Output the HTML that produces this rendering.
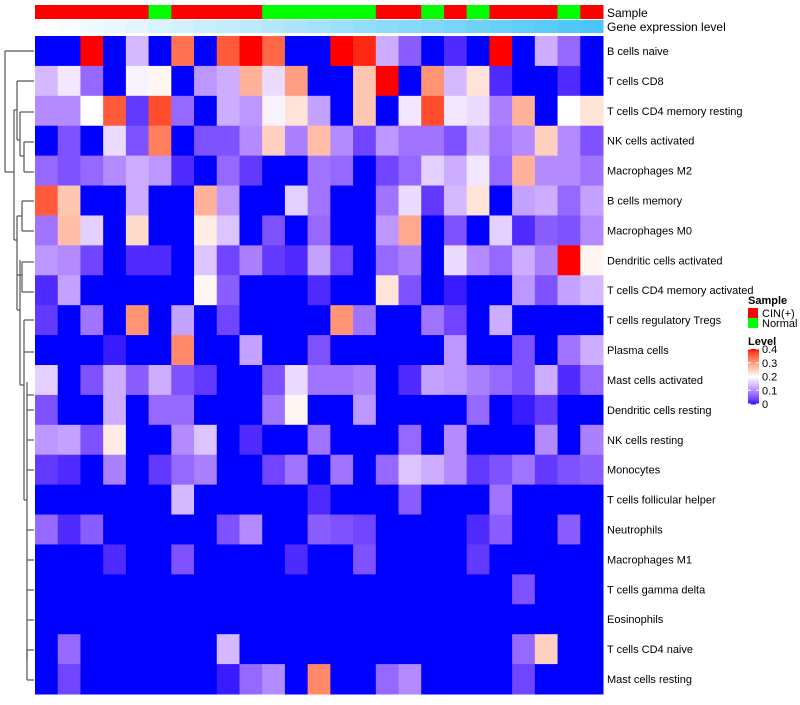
<!DOCTYPE html>
<html><head><meta charset="utf-8"><style>
body{margin:0;background:#fff;width:800px;height:700px;overflow:hidden;font-family:"Liberation Sans",sans-serif}
svg text{font-family:"Liberation Sans",sans-serif}
</style></head><body>
<svg id="c" width="800" height="700"></svg>
<script>
const rowNames=["B cells naive","T cells CD8","T cells CD4 memory resting","NK cells activated","Macrophages M2","B cells memory","Macrophages M0","Dendritic cells activated","T cells CD4 memory activated","T cells regulatory  Tregs","Plasma cells","Mast cells activated","Dendritic cells resting","NK cells resting","Monocytes","T cells follicular helper","Neutrophils","Macrophages M1","T cells gamma delta","Eosinophils","T cells CD4 naive","Mast cells resting"];
const sampleGroups=["C","C","C","C","C","N","C","C","C","C","N","N","N","N","N","C","C","N","C","N","C","C","C","N","C"];
const levelTicks=[0,0.1,0.2,0.3,0.4];
const r01=[0,0,0.4,0,0.14,0,0.34,0,0.36,0.4,0.35,0,0,0.4,0.39,0.13,0.06,0,0.02,0,0.4,0,0.13,0.07,0];
const r02=[0.14,0.18,0.07,0,0.19,0.21,0,0.11,0.13,0.28,0.17,0.3,0,0,0.26,0.4,0,0.31,0.14,0.23,0.02,0,0,0.02,0];
const r03=[0.1,0.1,0.2,0.36,0.03,0.37,0.07,0,0.13,0.11,0.19,0.23,0.12,0,0.26,0,0.18,0.37,0.18,0.17,0.09,0.28,0,0.2,0.23];
const r04=[0,0.05,0,0.17,0.05,0.33,0,0.05,0.05,0.1,0.25,0.09,0.27,0.1,0.04,0.11,0.08,0.08,0.05,0.13,0.08,0.1,0.25,0.1,0.05];
const r05=[0.07,0.05,0.07,0.1,0.13,0.11,0.02,0,0.07,0.03,0,0,0.08,0.07,0,0.04,0.07,0.16,0.13,0.18,0.07,0.28,0.1,0.1,0.08];
const r06=[0.36,0.26,0,0,0.13,0,0,0.28,0.11,0,0,0.16,0.08,0,0,0.08,0.17,0.03,0.14,0.23,0,0.12,0.13,0.07,0.12];
const r07=[0.08,0.27,0.16,0,0.24,0,0,0.22,0.15,0,0.05,0,0.07,0,0,0.11,0.29,0,0.05,0,0.16,0.02,0.06,0.05,0.1];
const r08=[0.11,0.1,0.04,0,0.02,0.02,0,0.15,0.04,0.09,0.03,0.02,0.12,0.04,0,0.07,0.09,0,0.17,0.1,0.07,0.13,0.09,0.4,0.21];
const r09=[0.02,0.12,0,0,0,0,0,0.21,0.06,0,0,0,0.02,0,0,0.23,0.05,0,0.01,0,0,0.11,0.05,0.12,0.14];
const r10=[0.03,0,0.08,0,0.31,0,0.12,0,0.04,0,0,0,0,0.31,0.08,0,0,0.08,0.04,0,0.13,0,0,0,0];
const r11=[0,0,0,0.01,0,0,0.32,0,0,0.12,0,0,0.05,0,0,0,0,0,0.11,0,0,0.05,0,0.08,0.13];
const r12=[0.16,0,0.05,0.13,0.06,0.13,0.05,0.03,0,0,0.05,0.17,0.08,0.08,0.09,0,0.02,0.12,0.11,0.09,0.07,0.05,0.13,0.02,0.07];
const r13=[0.05,0,0,0.13,0,0.07,0.07,0,0,0,0.08,0.21,0,0,0.11,0,0,0,0,0.07,0,0.01,0.03,0,0];
const r14=[0.11,0.12,0.05,0.22,0,0,0.1,0.15,0,0.02,0,0,0.08,0,0,0,0.07,0,0.1,0,0,0,0.1,0,0.09];
const r15=[0.03,0.02,0,0.09,0,0.03,0.07,0.09,0,0,0.04,0.08,0,0.08,0,0.07,0.15,0.13,0.1,0.03,0.05,0.08,0.03,0.05,0.06];
const r16=[0,0,0,0,0,0,0.14,0,0,0,0,0,0.02,0,0,0,0.06,0,0,0,0.08,0,0,0,0];
const r17=[0.07,0.02,0.06,0,0,0,0,0,0.05,0.1,0,0,0.06,0.05,0.04,0,0,0,0,0.02,0.06,0,0,0.06,0];
const r18=[0,0,0,0.02,0,0,0.05,0,0,0,0,0.02,0,0,0.05,0,0,0,0,0.03,0,0,0,0,0];
const r19=[0,0,0,0,0,0,0,0,0,0,0,0,0,0,0,0,0,0,0,0,0,0.05,0,0,0];
const r20=[0,0,0,0,0,0,0,0,0,0,0,0,0,0,0,0,0,0,0,0,0,0,0,0,0];
const r21=[0,0.07,0,0,0,0,0,0,0.14,0,0,0,0,0,0,0,0,0,0,0,0,0.07,0.25,0,0];
const r22=[0,0.04,0,0,0,0,0,0,0.01,0.07,0.1,0,0.32,0,0,0.07,0.1,0,0,0,0,0.04,0,0,0];
const matrix=[r01,r02,r03,r04,r05,r06,r07,r08,r09,r10,r11,r12,r13,r14,r15,r16,r17,r18,r19,r20,r21,r22];

const NS="http://www.w3.org/2000/svg";
const svg=document.getElementById('c');
function mk(tag,attrs,parent){const e=document.createElementNS(NS,tag);for(const k in attrs)e.setAttribute(k,attrs[k]);(parent||svg).appendChild(e);return e;}
function toLin(c){c/=255;return c<=0.04045?c/12.92:Math.pow((c+0.055)/1.055,2.4);}
function fromLin(c){c=c<=0.0031308?12.92*c:1.055*Math.pow(c,1/2.4)-0.055;return Math.max(0,Math.min(255,Math.round(c*255)));}
function rgb2lab(r,g,b){r=toLin(r);g=toLin(g);b=toLin(b);let x=(0.4124*r+0.3576*g+0.1805*b)/0.95047,y=0.2126*r+0.7152*g+0.0722*b,z=(0.0193*r+0.1192*g+0.9505*b)/1.08883;const f=t=>t>0.008856?Math.cbrt(t):7.787*t+16/116;x=f(x);y=f(y);z=f(z);return[116*y-16,500*(x-y),200*(y-z)];}
function lab2rgb(L,a,b){let y=(L+16)/116,x=a/500+y,z=y-b/200;const f=t=>t*t*t>0.008856?t*t*t:(t-16/116)/7.787;x=f(x)*0.95047;y=f(y);z=f(z)*1.08883;const r=3.2406*x-1.5372*y-0.4986*z,g=-0.9689*x+1.8758*y+0.0415*z,bb=0.0557*x-0.2040*y+1.0570*z;return`rgb(${fromLin(r)},${fromLin(g)},${fromLin(bb)})`;}
const LB=rgb2lab(0,0,255),LW=rgb2lab(255,255,255),LR=rgb2lab(255,0,0);
function col(v){v=Math.max(0,Math.min(0.4,v));let A,B,t;if(v<=0.2){A=LB;B=LW;t=v/0.2;}else{A=LW;B=LR;t=(v-0.2)/0.2;}return lab2rgb(A[0]+(B[0]-A[0])*t,A[1]+(B[1]-A[1])*t,A[2]+(B[2]-A[2])*t);}

const X0=35,X1=603,Y0=36,Y1=694;
const nC=sampleGroups.length,nR=rowNames.length;
const cw=(X1-X0)/nC,rh=(Y1-Y0)/nR;
const xPos=i=>X0+i*cw, yPos=j=>Y0+j*rh;

sampleGroups.forEach((g,i)=>{
  const r=mk('rect',{x:xPos(i),y:5,width:cw+0.5,height:14,fill:g==="C"?"#ff0000":"#00ff00"});
  
  
  const t=i/(nC-1);
  const gr=Math.round(255+(74-255)*t),gg=Math.round(255+(198-255)*t),gb=Math.round(255+(248-255)*t);
  const r2=mk('rect',{x:xPos(i),y:20,width:cw+0.5,height:13,fill:`rgb(${gr},${gg},${gb})`});
  
  
});
let t1=mk('text',{x:607,y:17,'font-size':12,fill:'#000'});t1.textContent="Sample";

let t2=mk('text',{x:607,y:31,'font-size':12,fill:'#000'});t2.textContent="Gene expression level";


matrix.forEach((row,j)=>{
  row.forEach((v,i)=>{
    const r=mk('rect',{x:xPos(i),y:yPos(j),width:cw+0.5,height:rh+0.5,fill:col(v)});
    
    
  });
  const t=mk('text',{x:607,y:yPos(j)+rh/2+4,'font-size':11,fill:'#000'});
  t.textContent=rowNames[j];
  
  
});

const dg=mk('g',{stroke:'#555','stroke-width':1.2,fill:'none'});

const segs=[[5,51,5,172],[5,51,34,51],[5,172,14,172],[14,110,14,240],
[14,110,17,110],[17,81,17,140],[17,81,34,81],[17,140,20,140],[20,112,20,156],[20,112,34,112],[20,156,24,156],[24,142,24,172],[24,142,34,142],[24,172,34,172],
[14,240,17,240],[17,216,17,310],[17,216,22,216],[22,201,22,231],[22,201,34,201],[22,231,34,231],[17,275,22,275],[22,262,22,292],[22,262,34,262],[22,292,34,292],
[17,310,20,310],[20,260,20,385],[20,385,24,385],[24,320,24,500],[24,320,34,320],[24,352,34,352],
[24,500,27,500],[27,382,27,660],[27,395,34,395],[27,410,34,410],[27,440,34,440],[27,470,34,470],[27,530,34,530],[27,560,34,560],[27,590,34,590],[27,620,34,620],[27,650,34,650],[27,680,34,680],[27,650,27,680]];
segs.forEach(s=>mk('line',{x1:s[0],y1:s[1],x2:s[2],y2:s[3]},dg));

let lt=mk('text',{x:748,y:304,'font-size':11,'font-weight':'bold'});lt.textContent="Sample";

[["CIN(+)","#ff0000",308],["Normal","#00ff00",318]].forEach(e=>{
  const r=mk('rect',{x:748,y:e[2],width:10,height:10,fill:e[1]});
  
  const t=mk('text',{x:762,y:e[2]+9,'font-size':11});t.textContent=e[0];
  
});
let lv=mk('text',{x:748,y:345,'font-size':11,'font-weight':'bold'});lv.textContent="Level";

const CB0=349,CB1=404;
for(let k=0;k<55;k++){
  const v=0.4*(1-k/55);
  const r=mk('rect',{x:748,y:CB0+k,width:11,height:1.5,fill:col(v)});
  
}
levelTicks.forEach(v=>{
  const y=CB1-(v/0.4)*(CB1-CB0);
  mk('line',{x1:748,y1:y,x2:751,y2:y,stroke:'#fff'});mk('line',{x1:756,y1:y,x2:759,y2:y,stroke:'#fff'});
  const t=mk('text',{x:762,y:y+4,'font-size':11});t.textContent=String(v);
  
});
</script>
</body></html>
